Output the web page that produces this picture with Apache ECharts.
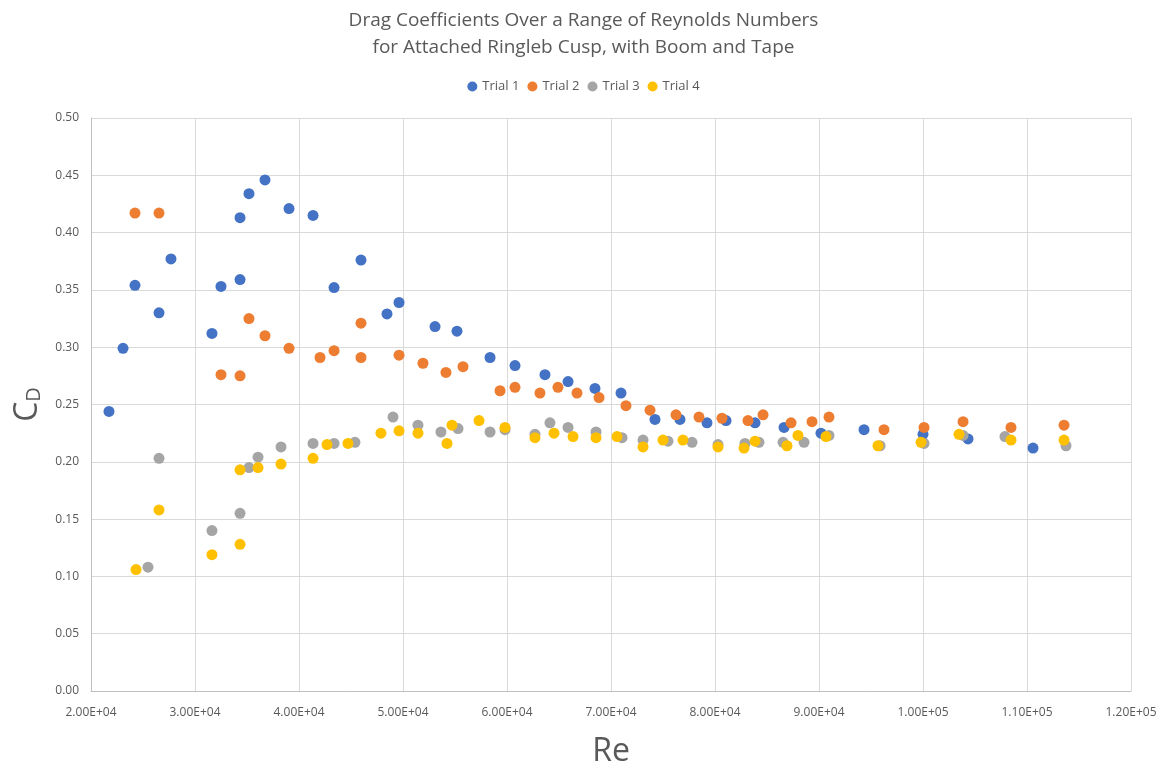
<!DOCTYPE html>
<html><head><meta charset="utf-8">
<script src="https://cdn.jsdelivr.net/npm/echarts@6/dist/echarts.min.js"></script>
<style>html,body{margin:0;padding:0;background:#fff}#c{width:1167px;height:769px}</style>
</head><body><div id="c"></div>
<script>
const seriesNames = ['Trial 1','Trial 2','Trial 3','Trial 4'];
const trial1Re = [21730,23080,24230,26540,27690,31630,32500,34330,34330,35190,36730,39040,41350,43370,45960,48460,49620,53080,55190,58370,60770,63650,65870,68460,70960,74230,76630,79230,81060,83850,86640,90190,94330,100000,104330,110580];
const trial1Cd = [0.244,0.299,0.354,0.330,0.377,0.312,0.353,0.413,0.359,0.434,0.446,0.421,0.415,0.352,0.376,0.329,0.339,0.318,0.314,0.291,0.284,0.276,0.270,0.264,0.260,0.237,0.237,0.234,0.236,0.234,0.230,0.225,0.228,0.224,0.220,0.212];
const trial2Re = [24230,26540,32500,34330,35190,36730,39040,42020,43370,45960,45960,49620,51920,54130,55770,59330,60770,63170,64900,66730,68850,71440,73750,76250,78460,80670,83170,84620,87310,89330,90960,96250,100100,103850,108460,113560];
const trial2Cd = [0.417,0.417,0.276,0.275,0.325,0.310,0.299,0.291,0.297,0.291,0.321,0.293,0.286,0.278,0.283,0.262,0.265,0.260,0.265,0.260,0.256,0.249,0.245,0.241,0.239,0.238,0.236,0.241,0.234,0.235,0.239,0.228,0.230,0.235,0.230,0.232];
const trial3Re = [25480,26540,31630,34330,35190,36060,38270,41350,43370,45380,49040,51440,53650,55290,58370,59810,62690,64130,65870,68560,71060,73080,75480,77790,80290,82880,84230,86540,88560,90960,95870,100100,103850,107880,113750];
const trial3Cd = [0.108,0.203,0.140,0.155,0.195,0.204,0.213,0.216,0.216,0.217,0.239,0.232,0.226,0.229,0.226,0.228,0.224,0.234,0.230,0.226,0.221,0.219,0.218,0.217,0.215,0.216,0.217,0.217,0.217,0.223,0.214,0.216,0.223,0.222,0.214];
const trial4Re = [24330,26540,31630,34330,34330,36060,38270,41350,42690,44710,47880,49620,51440,54230,54710,57310,59810,62690,64520,66350,68560,70580,73080,75000,76920,80290,82790,83850,86920,87980,90670,95670,99810,103460,108460,113560];
const trial4Cd = [0.106,0.158,0.119,0.128,0.193,0.195,0.198,0.203,0.215,0.216,0.225,0.227,0.225,0.216,0.232,0.236,0.230,0.221,0.225,0.222,0.221,0.222,0.213,0.219,0.219,0.213,0.212,0.218,0.214,0.223,0.222,0.214,0.217,0.224,0.219,0.219];
const colors = ['#4472C4','#ED7D31','#A5A5A5','#FFC000'];
const font = '"Liberation Sans Narrow","Open Sans","Liberation Sans",sans-serif';

function pairs(xs, ys){ return xs.map((x,i)=>[x, ys[i]]); }
function expFmt(v){
  const s = v.toExponential(2).toUpperCase();
  return s.replace(/E([+-])(\d)$/, 'E$10$2');
}
const dataSets = [pairs(trial1Re,trial1Cd),pairs(trial2Re,trial2Cd),pairs(trial3Re,trial3Cd),pairs(trial4Re,trial4Cd)];

const chart = echarts.init(document.getElementById('c'), null, {renderer:'canvas'});
chart.setOption({
  animation:false,
  color: colors,
  title:{
    text:'Drag Coefficients Over a Range of Reynolds Numbers\nfor Attached Ringleb Cusp, with Boom and Tape',
    left:'center', top:2,
    textStyle:{fontFamily:font, fontSize:19, fontWeight:'normal', color:'#595959', lineHeight:27}
  },
  legend:{
    top:75, left:'center', itemWidth:10, itemHeight:10, itemGap:8, icon:'circle',
    textStyle:{fontFamily:font, fontSize:13, color:'#595959'},
    data: seriesNames
  },
  grid:{left:91, right:36, top:118, bottom:78, containLabel:false, outerBoundsMode:'none'},
  xAxis:{
    type:'value', min:20000, max:120000, interval:10000,
    name:'Re', nameLocation:'middle', nameGap:45,
    nameTextStyle:{fontFamily:font, fontSize:32, color:'#595959'},
    axisLine:{show:true, lineStyle:{color:'#bfbfbf'}},
    axisTick:{show:false},
    axisLabel:{formatter: expFmt, fontFamily:font, fontSize:12, color:'#595959', margin:16},
    splitLine:{show:true, lineStyle:{color:'#d9d9d9', width:1}}
  },
  yAxis:{
    type:'value', min:0, max:0.5, interval:0.05,
    name:'C{sub|D}', nameLocation:'middle', nameGap:44, nameRotate:90,
    nameTextStyle:{fontFamily:font, fontSize:32, color:'#595959',
      rich:{sub:{fontFamily:font, fontSize:20, color:'#595959', verticalAlign:'bottom', padding:[12,0,0,0]}}},
    axisLine:{show:true, lineStyle:{color:'#bfbfbf'}},
    axisTick:{show:false},
    axisLabel:{formatter:v=>v.toFixed(2), fontFamily:font, fontSize:12, color:'#595959', margin:12},
    splitLine:{show:true, lineStyle:{color:'#d9d9d9', width:1}}
  },
  series: seriesNames.map((n,i)=>({
    name:n, type:'scatter', data:dataSets[i], symbolSize:11,
    itemStyle:{color:colors[i], opacity:1}
  }))
});
</script></body></html>
